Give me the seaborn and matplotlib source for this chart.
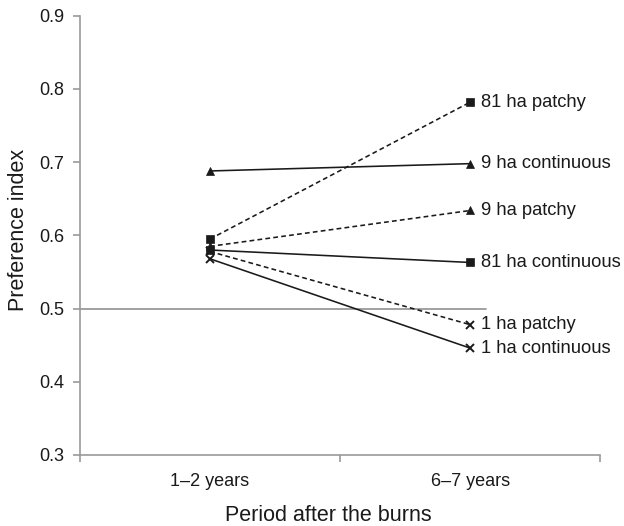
import matplotlib
matplotlib.use('Agg')
import matplotlib.pyplot as plt
import pandas as pd
import seaborn as sns
import numpy as np

# preference index, two periods after the burns
periods = ['1\u20132 years', '6\u20137 years']
series_names = ['81 ha patchy', '9 ha continuous', '9 ha patchy',
                '81 ha continuous', '1 ha patchy', '1 ha continuous']
early = [0.595, 0.688, 0.585, 0.580, 0.578, 0.568]
late = [0.782, 0.698, 0.634, 0.563, 0.478, 0.446]
markers = ['s', '^', '^', 's', 'x', 'x']
dashed = [True, False, True, False, True, False]

rows = []
for name, a, b in zip(series_names, early, late):
    rows.append({'Period': periods[0], 'Index': a, 'Series': name})
    rows.append({'Period': periods[1], 'Index': b, 'Series': name})
df = pd.DataFrame(rows)

sns.set_style('white')
plt.rcParams['font.family'] = ['Liberation Sans', 'DejaVu Sans']

fig = plt.figure(figsize=(6.24, 5.26), dpi=100)
ax = fig.add_axes([0.128, 0.135, 0.834, 0.835])

# reference line at 0.5
ax.plot([-0.5, 1.06], [0.5, 0.5], color='#9a9a9a', lw=1.3, zorder=1)

for name, mk, ds in zip(series_names, markers, dashed):
    sub = df[df['Series'] == name]
    sns.lineplot(data=sub, x='Period', y='Index', ax=ax, color='#1a1a1a',
                 lw=1.15, linestyle=(0, (3, 2)) if ds else '-',
                 marker=mk, markersize=6 if mk != 'x' else 5.5,
                 markeredgewidth=1.4 if mk == 'x' else 0.5,
                 markeredgecolor='#1a1a1a', zorder=3)
    ax.text(1.04, sub['Index'].iloc[-1], name, va='center', ha='left',
            fontsize=13.2, color='#1a1a1a')

ax.set_xlim(-0.5, 1.5)
ax.set_ylim(0.3, 0.9)
ax.set_yticks(np.arange(0.3, 0.91, 0.1))
ax.set_yticklabels(['0.3', '0.4', '0.5', '0.6', '0.7', '0.8', '0.9'])
ax.set_xticks([0, 1])
ax.set_xticklabels(periods)
ax.set_xticks([-0.5, 0.5, 1.5], minor=True)
ax.tick_params(axis='x', which='major', length=0, pad=13, labelsize=13, colors='#1a1a1a')
ax.tick_params(axis='x', which='minor', length=5, direction='out', color='#9a9a9a', width=1.2, bottom=True)
ax.tick_params(axis='y', length=5, direction='out', color='#9a9a9a', width=1.2, labelsize=13,
               labelcolor='#1a1a1a', left=True, pad=6)

for s in ['top', 'right']:
    ax.spines[s].set_visible(False)
for s in ['left', 'bottom']:
    ax.spines[s].set_color('#9a9a9a')
    ax.spines[s].set_linewidth(1.2)

ax.set_xlabel('Period after the burns', fontsize=15.5, color='#1a1a1a')
ax.xaxis.set_label_coords(0.477, -0.113)
ax.set_ylabel('Preference index', fontsize=15.5, color='#1a1a1a')
ax.yaxis.set_label_coords(-0.097, 0.513)
if ax.get_legend() is not None:
    ax.get_legend().remove()

fig.savefig('out.png', dpi=100)
